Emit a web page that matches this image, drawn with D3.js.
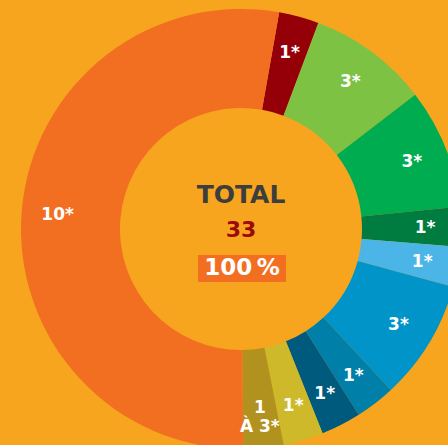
<!DOCTYPE html>
<html><head><meta charset="utf-8">
<script src="https://cdn.jsdelivr.net/npm/d3@7"></script>
<style>html,body{margin:0;padding:0;background:#F7A51F;overflow:hidden}</style>
</head><body>
<script>
const labels = ["1*","3*","3*","1*","1*","3*","1*","1*","1*","1\nÀ 3*","10*"];
const values = [1,3,3,1,1,3,1,1,1,1,18];
const colors = ["#950008","#7DC243","#00AC50","#007C41","#4CB5E8","#0094C8","#007FA8","#005A7E","#CDB92A","#B2921E","#F26F22"];
const totalLabel = "TOTAL", totalValue = "33", totalPct = "100\u2009%";

const W = 448, H = 445, cx = 241, cy = 229, rOuter = 220, rInner = 121, rLabel = 184;
const svg = d3.select("body").append("svg").attr("width", W).attr("height", H);
svg.append("rect").attr("width", W).attr("height", H).attr("fill", "#F7A51F");
const g = svg.append("g").attr("transform", `translate(${cx},${cy})`);
const start = 10 * Math.PI / 180;
const pie = d3.pie().sort(null).startAngle(start).endAngle(start + 2 * Math.PI);
const arcs = pie(values);
const arc = d3.arc().innerRadius(rInner).outerRadius(rOuter);
const labelArc = d3.arc().innerRadius(rLabel).outerRadius(rLabel);
g.selectAll("path").data(arcs).join("path").attr("d", arc).attr("fill", (d, i) => colors[i]);
const font = "'DejaVu Sans', sans-serif";
g.selectAll("text.lbl").data(arcs).join("text").attr("class", "lbl")
  .attr("transform", d => `translate(${labelArc.centroid(d)})`)
  .attr("text-anchor", "middle").attr("fill", "#fff")
  .attr("font-family", font).attr("font-weight", "bold").attr("font-size", 17)
  .each(function (d, i) {
    const lines = labels[i].split("\n");
    const t = d3.select(this);
    const extra = lines.length > 1 ? 4 : 0;
    lines.forEach((ln, j) => {
      t.append("tspan").attr("x", 0)
        .attr("y", (j - (lines.length - 1) / 2) * 19 + 6 + extra)
        .text(ln);
    });
  });
g.append("text").attr("x", 0).attr("y", -26).attr("text-anchor", "middle")
  .attr("font-family", font).attr("font-weight", "bold").attr("font-size", 25)
  .attr("fill", "#3d3d3d").text(totalLabel);
g.append("text").attr("x", 0).attr("y", 8).attr("text-anchor", "middle")
  .attr("font-family", font).attr("font-weight", "bold").attr("font-size", 22)
  .attr("fill", "#9B0A0A").text(totalValue);
g.append("rect").attr("x", -43).attr("y", 26).attr("width", 88).attr("height", 27).attr("fill", "#F26F22");
g.append("text").attr("x", 1).attr("y", 46).attr("text-anchor", "middle")
  .attr("font-family", font).attr("font-weight", "bold").attr("font-size", 23)
  .attr("fill", "#fff").text(totalPct);
</script>
</body></html>
